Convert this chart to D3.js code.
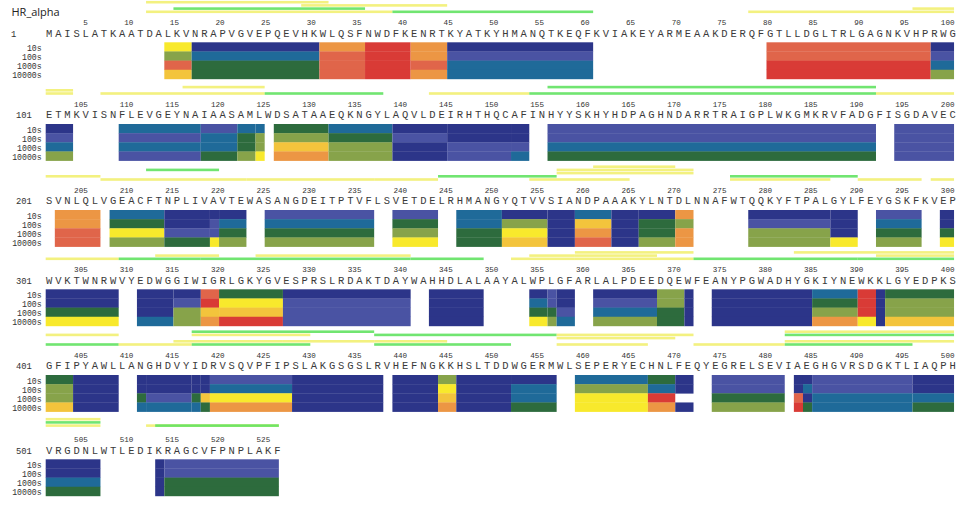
<!DOCTYPE html>
<html><head><meta charset="utf-8">
<script src="https://cdn.jsdelivr.net/npm/d3@7"></script>
<style>body{margin:0;background:#fff}svg{display:block}</style>
</head><body>
<svg id="chart" width="960" height="506"></svg>
<script>
// ---------------- DATA ----------------
const title = "HR_alpha";
const sequence =
  "MAISLATKAATDALKVNRAPVGVEPQEVHKWLQSFNWDFKENRTKYATKYHMANQTKEQFKVIAKEYARMEAAKDERQFGTLLDGLTRLGAGNKVHPRWG" +
  "ETMKVISNFLEVGEYNAIAASAMLWDSATAAEQKNGYLAQVLDEIRHTHQCAFINHYYSKHYHDPAGHNDARRTRAIGPLWKGMKRVFADGFISGDAVEC" +
  "SVNLQLVGEACFTNPLIVAVTEWASANGDEITPTVFLSVETDELRHMANGYQTVVSIANDPAAAKYLNTDLNNAFWTQQKYFTPALGYLFEYGSKFKVEP" +
  "WVKTWNRWVYEDWGGIWIGRLGKYGVESPRSLRDAKTDAYWAHHDLALAAYALWPLGFARLALPDEEDQEWFEANYPGWADHYGKIYNEWKKLGYEDPKS" +
  "GFIPYAWLLANGHDVYIDRVSQVPFIPSLAKGSGSLRVHEFNGKKHSLTDDWGERMWLSEPERYECHNLFEQYEGRELSEVIAEGHGVRSDGKTLIAQPH" +
  "VRGDNLWTLEDIKRAGCVFPNPLAKF";
const timepoints = ["10s", "100s", "1000s", "10000s"];

// Heat-map segments (residue ranges) and their relative deuterium uptake (%) per timepoint
const segStart = [14,17,31,36,41,45,80,98,
  101,109,118,122,124,126,132,139,145,152,156,194,
  202,208,214,219,220,225,239,246,251,256,259,263,266,270,278,287,292,299,
  301,311,315,318,320,327,343,354,356,357,361,368,371,374,385,390,392,393,
  401,404,411,412,417,418,419,428,439,444,446,452,459,467,470,474,483,484,485,496,
  501,513,514];
const segEnd = [16,30,35,40,44,60,97,100,
  103,117,121,123,124,131,138,144,151,153,191,200,
  206,213,218,219,222,236,243,250,255,258,262,265,269,271,286,289,296,300,
  308,314,317,319,326,340,348,355,356,358,367,370,371,384,389,391,392,400,
  403,408,411,416,417,418,427,437,443,445,451,456,466,469,471,481,483,484,495,500,
  506,513,526];
const uptake10s = [55,5,75,95,75,5,85,5,
  5,25,15,25,25,35,25,5,5,5,15,15,
  75,25,5,5,5,15,15,25,5,5,25,5,5,75,5,5,15,5,
  5,5,5,85,35,5,5,5,15,5,5,45,5,5,25,95,5,35,
  35,5,5,5,5,5,15,5,5,45,5,5,25,35,5,15,5,5,15,5,
  5,5,15];
const uptake100s = [45,25,85,95,75,15,85,15,
  15,15,25,35,45,45,35,15,5,5,15,15,
  75,35,5,15,25,25,35,25,45,5,65,5,35,45,15,5,25,5,
  5,5,15,95,55,15,5,25,15,5,15,45,5,5,35,95,5,45,
  45,5,5,5,5,5,25,5,5,55,5,25,45,25,5,15,5,25,15,5,
  5,5,15];
const uptake1000s = [85,35,85,95,85,25,95,25,
  25,25,25,35,45,65,45,5,15,15,25,15,
  85,55,15,15,35,35,45,35,55,5,75,5,35,75,45,5,35,35,
  35,5,45,65,65,15,5,35,35,15,25,35,5,5,45,95,5,45,
  45,5,35,15,35,65,55,5,5,65,5,25,55,95,null,35,85,5,25,25,
  25,5,35];
const uptake10000s = [65,35,85,95,75,25,95,45,
  45,15,35,45,55,75,45,5,15,25,35,15,
  85,45,35,55,45,45,55,35,65,5,85,5,45,75,45,55,45,55,
  55,25,45,75,95,15,5,55,45,25,45,35,5,5,75,55,5,65,
  65,5,25,25,25,35,75,5,5,75,5,35,55,75,5,45,95,35,25,35,
  35,5,35];

// Peptide coverage: residue ranges, state (A / B) and stacking track
const pepStart = [12,39,78,15,96,29,12,
  101,101,107,125,143,154,192,116,156,
  201,207,212,223,237,244,254,257,257,261,276,276,290,298,
  301,309,313,318,324,341,352,354,359,359,359,372,390,383,392,
  401,401,409,415,417,417,417,427,437,437,437,457,457,457,472,482,482,482,482,
  501,501,501,512,513];
const pepEnd = [38,60,100,35,100,44,31,
  103,103,124,137,153,191,200,124,191,
  206,222,219,236,243,256,264,271,271,269,289,286,296,300,
  308,317,319,340,340,348,358,358,371,367,371,389,400,400,400,
  408,408,416,426,436,429,429,436,456,444,451,471,469,466,481,500,500,495,500,
  506,506,506,526,526];
const pepState = ["A","B","A","B","A","A","A",
  "A","A","A","B","A","B","A","A","B",
  "A","A","B","A","A","B","A","A","A","A","B","A","A","A",
  "A","B","A","B","A","B","A","A","A","A","A","B","B","A","A",
  "A","B","A","A","B","A","B","A","B","A","B","A","A","A","A","B","A","B","A",
  "A","B","A","A","B"];
const pepTrack = [0,0,0,1,1,2,3,
  0,1,0,0,0,0,0,2,2,
  1,0,3,0,0,1,0,2,3,4,1,0,0,0,
  0,0,1,0,1,0,0,1,0,1,2,0,0,2,1,
  3,0,0,1,4,3,0,1,3,1,0,3,2,0,0,3,4,0,1,
  1,2,3,1,1];

// ---------------- LAYOUT ----------------
const svg = d3.select("#chart");
const perRow = 100;
const nRows = Math.ceil(sequence.length / perRow);
const rowBlockTop = [42.3, 124, 210, 289.3, 375, 459.3];
const x = d3.scaleLinear().domain([0, perRow]).range([45.7, 45.7 + 912.4]);
const band = d3.scaleBand().domain(timepoints).range([0, 36.6]);
const color = d3.scaleQuantize().domain([0, 100]).range([
  "#2c3589", "#4a53a3", "#1f6a99", "#2d6b3d", "#87a34a",
  "#f8e92c", "#f3c43c", "#ec9644", "#e0654a", "#d93b36"]);
const pepColor = d3.scaleOrdinal().domain(["A", "B"]).range(["#f0ee60", "#62e262"]);
const trackY = d3.scaleLinear().domain([0, 1]).range([-30.5, -33.7]);

const rowOf = r => Math.floor((r - 1) / perRow);
const rowLast = i => Math.min((i + 1) * perRow, sequence.length);
function leftX(r) { const i = rowOf(r); return x(r - 1 - i * perRow); }
function rightX(r) {
  const i = rowOf(r);
  if (r === rowLast(i)) return x(r - 1 - i * perRow + 0.5) + 0.5;
  return x(r - i * perRow);
}

svg.append("text").attr("x", 11.5).attr("y", 15.5)
  .attr("font-family", "'Open Sans', 'Segoe UI', Arial, sans-serif")
  .attr("font-size", 11).attr("fill", "#222").text(title);

const mono = "'Courier New', 'Liberation Mono', monospace";

for (let i = 0; i < nRows; i++) {
  const g = svg.append("g").attr("transform", `translate(0,${rowBlockTop[i]})`);
  const first = i * perRow + 1, last = rowLast(i);
  const residues = d3.range(first, last + 1);

  // row number
  g.append("text").attr("x", i === 0 ? 11 : 16).attr("y", -5.7)
    .attr("font-family", mono).attr("font-size", 8.8).attr("fill", "#333")
    .text(first);

  // tick labels every 5 residues
  g.selectAll("text.tick").data(residues.filter(r => r % 5 === 0)).join("text")
    .attr("class", "tick")
    .attr("x", r => x(r - first + 0.5) + 1).attr("y", -17)
    .attr("text-anchor", "end").attr("font-family", mono).attr("font-size", 7.6)
    .attr("fill", "#333").text(r => r);

  // sequence letters
  g.selectAll("text.aa").data(residues).join("text")
    .attr("class", "aa")
    .attr("x", r => x(r - first + 0.5) - 1).attr("y", -5.7)
    .attr("text-anchor", "middle").attr("font-family", mono).attr("font-size", 10.5)
    .attr("fill", "#3a3a3a").text(r => sequence[r - 1]);

  // timepoint labels
  g.selectAll("text.tp").data(timepoints).join("text")
    .attr("class", "tp")
    .attr("x", 41.7).attr("y", t => band(t) + band.bandwidth() - 0.6)
    .attr("text-anchor", "end").attr("font-family", mono).attr("font-size", 8.2)
    .attr("fill", "#333").text(t => t);
}

// heat-map cells
const cells = [];
segStart.forEach((s, k) => {
  const vals = [uptake10s[k], uptake100s[k], uptake1000s[k], uptake10000s[k]];
  vals.forEach((v, j) => { if (v != null) cells.push({ s, e: segEnd[k], t: timepoints[j], v }); });
});
svg.append("g").selectAll("rect").data(cells).join("rect")
  .attr("x", d => leftX(d.s))
  .attr("y", d => rowBlockTop[rowOf(d.s)] + band(d.t))
  .attr("width", d => rightX(d.e) - leftX(d.s))
  .attr("height", band.bandwidth() + 0.3)
  .attr("fill", d => color(d.v));

// peptide coverage lines
const peps = pepStart.map((s, k) => ({ s, e: pepEnd[k], st: pepState[k], tr: pepTrack[k] }));
svg.append("g").selectAll("rect").data(peps).join("rect")
  .attr("x", d => leftX(d.s))
  .attr("y", d => rowBlockTop[rowOf(d.s)] + trackY(d.tr) - 1.3)
  .attr("width", d => rightX(d.e) - leftX(d.s))
  .attr("height", 2.6)
  .attr("fill", d => pepColor(d.st))
  .attr("opacity", d => d.st === "A" ? 0.8 : 0.9);
</script>
</body></html>
